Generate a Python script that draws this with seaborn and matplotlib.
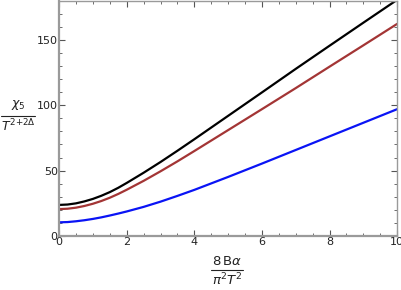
import matplotlib
matplotlib.use("Agg")
import matplotlib.pyplot as plt
from matplotlib.lines import Line2D
from matplotlib.ticker import MultipleLocator
import pandas as pd
import seaborn as sns

x_vals = [0, 0.25, 0.5, 0.75, 1, 1.25, 1.5, 1.75, 2, 2.5, 3, 3.5, 4,
          5, 6, 7, 8, 9, 10]
black_vals = [23.8, 24.1, 25.0, 26.5, 28.4, 30.8, 33.6, 36.9, 40.6, 48.4,
              56.6, 65.2, 74.0, 91.9, 109.8, 127.8, 145.5, 163.1, 180.6]
brown_vals = [20.6, 20.9, 21.7, 23.0, 24.7, 26.8, 29.3, 32.2, 35.4, 42.2,
              49.5, 57.1, 65.0, 81.0, 97.0, 113.1, 129.5, 145.8, 162.2]
blue_vals = [10.5, 10.7, 11.3, 12.1, 13.1, 14.3, 15.7, 17.2, 18.8, 22.3,
             26.3, 30.7, 35.3, 45.2, 55.4, 65.8, 76.2, 86.6, 97.0]

series = {"black": black_vals, "brown": brown_vals, "blue": blue_vals}
palette = {"black": "#000000", "brown": "#A33535", "blue": "#0A14F5"}

rows = []
for name, vals in series.items():
    for xv, yv in zip(x_vals, vals):
        rows.append({"x": xv, "y": yv, "curve": name})
df = pd.DataFrame(rows)

sns.set_style("ticks")
plt.rcParams["font.family"] = ["DejaVu Sans"]
plt.rcParams["mathtext.fontset"] = "dejavusans"

W, H = 402, 290
fig = plt.figure(figsize=(W / 100, H / 100), dpi=100)
ax = fig.add_axes([0.147, 0.186, 0.841, 0.812])
sns.lineplot(data=df, x="x", y="y", hue="curve", palette=palette,
             linewidth=1.6, legend=False, ax=ax)

ax.set_xlim(0, 10)
ax.set_ylim(0, 180)
ax.xaxis.set_major_locator(MultipleLocator(2))
ax.xaxis.set_minor_locator(MultipleLocator(0.5))
ax.yaxis.set_major_locator(MultipleLocator(50))
ax.yaxis.set_minor_locator(MultipleLocator(10))
ax.set_xlabel("")
ax.set_ylabel("")

frame = "#9a9a9a"
for sp in ax.spines.values():
    sp.set_color(frame)
    sp.set_linewidth(1.0)
ax.spines["left"].set_linewidth(1.6)
ax.spines["bottom"].set_linewidth(1.6)
ax.tick_params(which="both", direction="in", top=True, right=True,
               color="#555555", labelsize=8, labelcolor="#222222", pad=1)
ax.tick_params(which="major", length=4, width=0.8)
ax.tick_params(which="minor", length=2, width=0.6)


# fractions drawn as stacked texts, positions in pixels from top-left
def fraction(num, den, cx, y_num, y_bar, y_den, half_w, size=9):
    kw = dict(ha="center", va="baseline", fontsize=size, color="#222222")
    fig.text(cx / W, 1 - y_num / H, num, **kw)
    fig.text(cx / W, 1 - y_den / H, den, **kw)
    fig.add_artist(Line2D([(cx - half_w) / W, (cx + half_w) / W],
                          [1 - y_bar / H, 1 - y_bar / H],
                          transform=fig.transFigure, color="#222222", lw=0.8))


fraction(r"$8\,\mathrm{B}\alpha$", r"$\pi^2 T^2$", 227.5, 265, 269.5, 285, 16, 9.5)
fraction(r"$\chi_5$", r"$T^{2{+}2\Delta}$", 18, 107, 115.5, 131, 17, 9)

fig.savefig("out.png", dpi=100)
